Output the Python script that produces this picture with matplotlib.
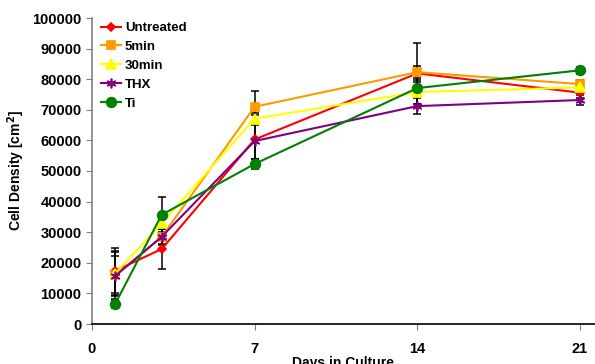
import matplotlib
matplotlib.use("Agg")
import matplotlib.pyplot as plt

days = [1, 3, 7, 14, 21]
series_names = ["Untreated", "5min", "30min", "THX", "Ti"]
untreated = [17400, 24500, 60300, 81900, 75600]
min5 = [15900, 28500, 71000, 82300, 78400]
min30 = [16500, 32900, 67100, 75800, 77300]
thx = [15700, 28500, 59800, 71200, 73200]
ti = [6600, 35700, 52300, 77100, 82900]

err_untreated = [7300, 6600, 8000, 10000, 1800]
err_5min = [8000, 2500, 5300, 2000, 1500]
err_30min = [7000, 2000, 2000, 4000, 1500]
err_thx = [6500, 2800, 6000, 2600, 1700]
err_ti = [1500, 5700, 1500, 2000, 1200]

colors = ["#FF0000", "#FF9900", "#FFFF00", "#800080", "#008000"]
markers = ["D", "s", "^", (6, 2, 0), "o"]
msizes = [4.5, 6, 6.5, 7, 7]

values = [untreated, min5, min30, thx, ti]
errors = [err_untreated, err_5min, err_30min, err_thx, err_ti]

plt.rcParams["font.family"] = ["Liberation Sans", "DejaVu Sans"]
fig = plt.figure(figsize=(5.95, 3.64), dpi=100)
ax = fig.add_axes([92 / 595, 1 - 324 / 364, 1 - 92 / 595, (324 - 18) / 364])

for v, e in zip(values, errors):
    ax.errorbar(days, v, yerr=e, fmt="none", ecolor="black", elinewidth=1.1,
                capsize=3, capthick=1.1, zorder=1)
for name, v, c, m, ms in zip(series_names, values, colors, markers, msizes):
    ax.plot(days, v, color=c, marker=m, markersize=ms, linewidth=1.5,
            markeredgecolor=c, markeredgewidth=1.2, label=name, zorder=3)

ax.set_xlim(0, 21.65)
ax.set_ylim(0, 100000)
ax.set_xticks([0, 7, 14, 21])
ax.set_yticks(range(0, 100001, 10000))
ax.tick_params(axis="both", labelsize=10.5, colors="#808080", labelcolor="black",
               direction="out", length=4)
ax.tick_params(axis="x", pad=9)
for lab in ax.get_xticklabels() + ax.get_yticklabels():
    lab.set_fontweight("bold")
ax.spines["top"].set_visible(False)
ax.spines["right"].set_visible(False)
ax.spines["left"].set_color("#808080")
ax.spines["bottom"].set_color("black")
ax.spines["left"].set_linewidth(1.2)
ax.spines["bottom"].set_linewidth(1.2)

ax.set_xlabel("Days in Culture", fontsize=10, fontweight="bold", labelpad=0)
ax.set_ylabel("Cell Density [cm$^\\mathbf{2}$]", fontsize=10, fontweight="bold", labelpad=4)

leg = ax.legend(loc="upper left", bbox_to_anchor=(0.0, 1.017), frameon=False,
                prop={"weight": "bold", "size": 9.5}, handlelength=1.5,
                handletextpad=0.3, labelspacing=0.5, borderaxespad=0.3)

fig.savefig("out.png", dpi=100)
